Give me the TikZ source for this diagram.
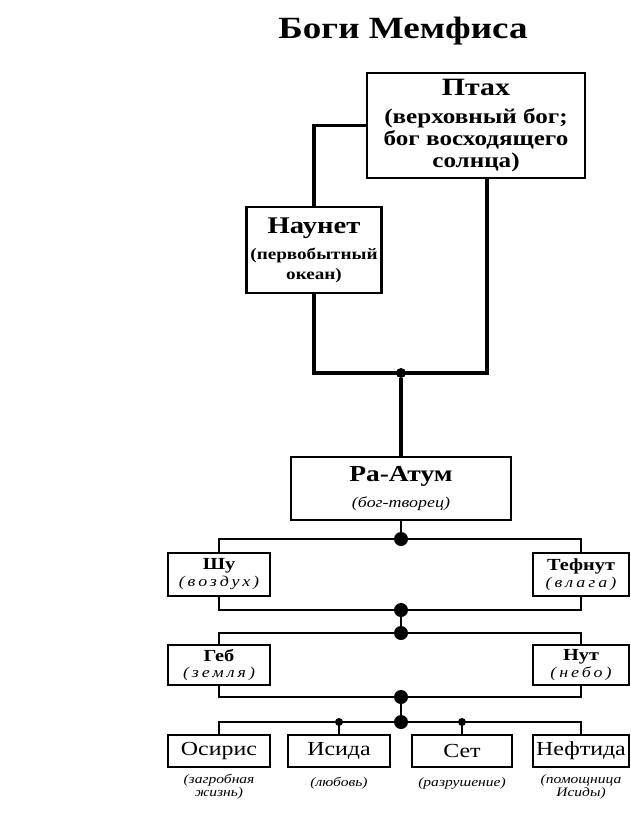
\documentclass[tikz,border=0pt]{standalone}
\usepackage{fontspec}
\setmainfont{Liberation Serif}[FakeStretch=1.2]
\usepackage{tikz}
\tikzstyle{god} = [rectangle, draw=black, line width=2.2bp, inner sep=0pt, align=center, font=\bfseries]
\tikzstyle{pair} = [god, line width=1.8bp, minimum width=102bp, minimum height=43bp, font=\fontsize{17}{17}\selectfont\bfseries]
\tikzstyle{kid} = [rectangle, draw=black, line width=1.8bp, minimum width=102bp, minimum height=32bp, inner sep=0pt, font=\fontsize{20}{20}\selectfont]
\tikzstyle{note} = [align=center, inner sep=0pt, font=\fontsize{13}{13}\selectfont\itshape]
\tikzstyle{link} = [line width=3.2bp]
\tikzstyle{kin} = [line width=1.8bp]
\tikzstyle{knot} = [circle, fill=black, inner sep=0pt, minimum size=14bp]
\tikzstyle{bead} = [knot, minimum size=8bp]
\newcommand{\gloss}[1]{{\fontsize{15}{15}\selectfont\mdseries\itshape\addfontfeature{LetterSpace=20}#1}}

\begin{document}
\begin{tikzpicture}[x=1bp, y=-1bp, node distance=362bp]
\useasboundingbox (0,0) rectangle (631,814);
\node[font=\fontsize{31}{31}\selectfont\bfseries] (title) at (403,31) {Боги Мемфиса};

% upper gods
\node[god, minimum width=218bp, minimum height=105bp, font=\fontsize{21}{22}\selectfont\bfseries] (ptah) at (476,125.5)
  {{\fontsize{25}{25}\selectfont Птах}\\[6bp] (верховный бог;\\ бог восходящего\\ солнца)};
\node[god, minimum width=135bp, minimum height=86bp, font=\fontsize{16}{20}\selectfont\bfseries] (naunet) at (314,250)
  {{\fontsize{24}{24}\selectfont Наунет}\\[6bp] (первобытный\\ океан)};
\node[god, minimum width=220bp, minimum height=63bp, font=\fontsize{23}{22}\selectfont\bfseries] (ra) at (401,488.5)
  {Ра-Атум\\[4bp] {\fontsize{15}{15}\selectfont\mdseries\itshape (бог-творец)}};

% pairs
\node[pair] (shu) at (219,574.5) {Шу\\ \gloss{(воздух)}};
\node[pair, minimum width=96bp, right of=shu] (tefnut) {Тефнут\\ \gloss{(влага)}};
\node[pair, minimum height=40bp] (geb) at (219,665) {Геб\\ \gloss{(земля)}};
\node[pair, minimum width=96bp, minimum height=40bp, right of=geb] (nut) {Нут\\ \gloss{(небо)}};

% children
\node[kid] (osiris) at (219,751) {Осирис};
\node[kid] (isis) at (339,751) {Исида};
\node[kid, minimum width=100bp] (seth) at (462,751) {Сет};
\node[kid, minimum width=96bp] (nephthys) at (581,751) {Нефтида};
\node[note, below of=osiris, node distance=36bp] (n1) {(загробная\\ жизнь)};
\node[note, below of=isis, node distance=32bp] (n2) {(любовь)};
\node[note, below of=seth, node distance=32bp] (n3) {(разрушение)};
\node[note, below of=nephthys, node distance=36bp] (n4) {(помощница\\ Исиды)};

% connectors
\node[knot, minimum size=10bp] (hub) at (401,373) {};
\draw[link] (ptah.west) -| (naunet.north);
\draw[link] (naunet.south) |- (hub.center) -| ([xshift=11bp]ptah.south);
\draw[link] (hub) -- (ra);

\node[knot] (k1) at (401,539) {};
\node[knot] (k2) at (401,610) {};
\node[knot] (k3) at (401,633) {};
\node[knot] (k4) at (401,697) {};
\node[knot] (k5) at (401,722) {};
\draw[kin] (ra) -- (k1);
\draw[kin] (shu.north) |- (k1.center) -| (tefnut.north);
\draw[kin] (shu.south) |- (k2.center) -| (tefnut.south);
\draw[kin] (k2) -- (k3);
\draw[kin] (geb.north) |- (k3.center) -| (nut.north);
\draw[kin] (geb.south) |- (k4.center) -| (nut.south);
\draw[kin] (k4) -- (k5);
\draw[kin] (osiris.north) |- (k5.center) -| (nephthys.north);
\node[bead] (b1) at (isis.north |- k5) {};
\node[bead] (b2) at (seth.north |- k5) {};
\draw[kin] (b1.center) -- (isis.north);
\draw[kin] (b2.center) -- (seth.north);
\end{tikzpicture}
\end{document}
